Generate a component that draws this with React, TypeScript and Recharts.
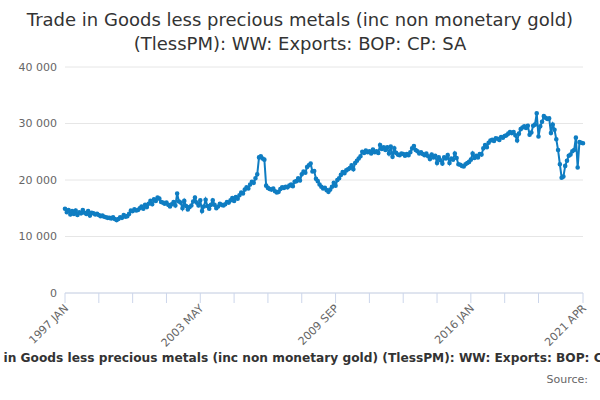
import { LineChart, Line, XAxis, YAxis, CartesianGrid } from 'recharts';

const startYear = 1997;
const monthNames = ['JAN', 'FEB', 'MAR', 'APR', 'MAY', 'JUN', 'JUL', 'AUG', 'SEP', 'OCT', 'NOV', 'DEC'];

// monthly values, Jan 1997 .. Apr 2021 (millions, SA)
const exports1997_2001 = [
  14900, 14300, 14700, 13900, 14500, 14000, 14600, 13800, 14300, 14100, 14700, 14200,
  14000, 14500, 13700, 14200, 14100, 13900, 14000, 13800, 13600, 13700, 13500, 13400,
  13300, 13300, 13200, 13400, 13100, 12900, 13100, 13400, 13300, 13800, 13500, 13600,
  14000, 14600, 14500, 14800, 14600, 14700, 15000, 15300, 14900, 15600, 15200, 15800,
  16300, 15700, 16600, 16300, 16900, 16700, 16100, 16000, 15800, 16000, 15600, 15300,
];
const exports2002_2006 = [
  15700, 16100, 15500, 17600, 16200, 16000, 15000, 16300, 15400, 14800, 15200, 15500,
  16200, 16900, 16000, 15500, 16400, 14500, 15300, 16500, 15400, 14900, 15600, 16400,
  15600, 15000, 15300, 15800, 15600, 15500, 15700, 16100, 16000, 16400, 16800, 16300,
  17000, 16700, 17300, 17800, 17600, 18300, 18700, 18500, 19200, 19700, 19500, 20300,
  21000, 24000, 24200, 23800, 23600, 19000, 18600, 18400, 18300, 18500, 18000, 17800,
];
const exports2007_2011 = [
  17900, 18400, 18700, 18600, 18800, 18700, 19000, 19200, 18900, 19700, 19800, 20300,
  19900, 21000, 21500, 21300, 22300, 22600, 22900, 21500, 21600, 20200, 19800, 19200,
  18800, 18500, 18600, 18200, 17900, 18300, 18800, 19500, 19000, 20000, 20300, 20900,
  21400, 21200, 21700, 21900, 22100, 22600, 21900, 23000, 23400, 23800, 24200, 25000,
  24800, 25200, 24900, 25100, 24700, 25400, 24900, 25100, 24800, 26200, 25500, 25800,
];
const exports2012_2016 = [
  25300, 25800, 24700, 25900, 24100, 25600, 24800, 24500, 24400, 24700, 24600, 24300,
  24600, 24400, 24900, 25600, 26000, 25300, 25100, 24700, 24900, 24600, 24400, 24700,
  24200, 23700, 24500, 24000, 24300, 23000, 24000, 23500, 22900, 24000, 23800, 24400,
  23000, 23800, 23600, 24700, 23900, 22800, 22700, 22500, 22400, 22800, 23000, 23200,
  23600, 24700, 23900, 24300, 24000, 24600, 24500, 25600, 26200, 25800, 26600, 27000,
];
const exports2017_2021 = [
  27100, 26900, 27400, 27300, 27100, 27600, 27500, 27800, 27900, 28200, 28500, 28300,
  28500, 27900, 27000, 28200, 29000, 29300, 29500, 29200, 29600, 28000, 28400, 29600,
  29800, 31800, 27700, 29500, 30300, 31300, 31000, 30800, 30900, 28300, 29800, 28900,
  27200, 25300, 22800, 20400, 20600, 22500, 23400, 24300, 24500, 25100, 25300, 27500,
  22200, 26700, 26600, 26500,
];

const values = [...exports1997_2001, ...exports2002_2006, ...exports2007_2011, ...exports2012_2016, ...exports2017_2021];

const yTicks = [0, 10000, 20000, 30000, 40000];
const xTicks = [0, 19, 38, 57, 76, 95, 114, 133, 152, 171, 190, 209, 228, 247, 266, 291];
const labeledTicks = [0, 76, 152, 228, 291];

const data = values.map((v, i) => ({
  i,
  label: `${startYear + Math.floor(i / 12)} ${monthNames[i % 12]}`,
  value: v,
}));

const fmt = (v: number) => (v === 0 ? '0' : v.toLocaleString('en-US').replace(/,/g, ' '));

const XTick = (props: any) => {
  const { x, y, payload } = props;
  const idx = payload.value;
  return (
    <g>
      <line x1={x} x2={x} y1={y - 8} y2={y + 2} stroke="#ccd6eb" />
      {labeledTicks.includes(idx) && (
        <text x={x + 4} y={y + 8} textAnchor="end" fontSize={11} fill="#666"
          transform={`rotate(-45 ${x + 4} ${y + 8})`}>
          {data[idx].label}
        </text>
      )}
    </g>
  );
};

const font = 'DejaVu Sans, sans-serif';

export default function App() {
  return (
    <div style={{ position: 'absolute', left: 0, top: 0, width: 600, height: 400, background: '#fff', fontFamily: font, overflow: 'hidden' }}>
      <div style={{ position: 'absolute', top: 8, left: 0, width: 600, textAlign: 'center', fontSize: 18, lineHeight: '24px', color: '#333' }}>
        Trade in Goods less precious metals (inc non monetary gold)<br />(TlessPM): WW: Exports: BOP: CP: SA
      </div>
      <LineChart width={600} height={400} data={data} margin={{ top: 67, right: 17, left: 0, bottom: 0 }}>
        <CartesianGrid vertical={false} stroke="#e6e6e6" />
        <XAxis dataKey="i" type="number" domain={[0, 291]} ticks={xTicks} interval={0}
          tick={<XTick />} tickLine={false} axisLine={{ stroke: '#ccd6eb' }} height={107} />
        <YAxis domain={[0, 40000]} ticks={yTicks} tickFormatter={fmt} axisLine={false} tickLine={false}
          width={65} tick={{ fontSize: 11, fill: '#666' }} />
        <Line dataKey="value" stroke="#0f7dc2" strokeWidth={2} isAnimationActive={false}
          dot={{ r: 1.3, fill: '#0f7dc2', stroke: '#0f7dc2' }} />
      </LineChart>
      <div style={{ position: 'absolute', top: 351, left: -300, width: 1200, textAlign: 'center', fontSize: 12.2, fontWeight: 'bold', color: '#333', whiteSpace: 'nowrap' }}>
        Trade in Goods less precious metals (inc non monetary gold) (TlessPM): WW: Exports: BOP: CP: SA
      </div>
      <div style={{ position: 'absolute', top: 373, right: 12, fontSize: 11, color: '#666' }}>Source:</div>
    </div>
  );
}
